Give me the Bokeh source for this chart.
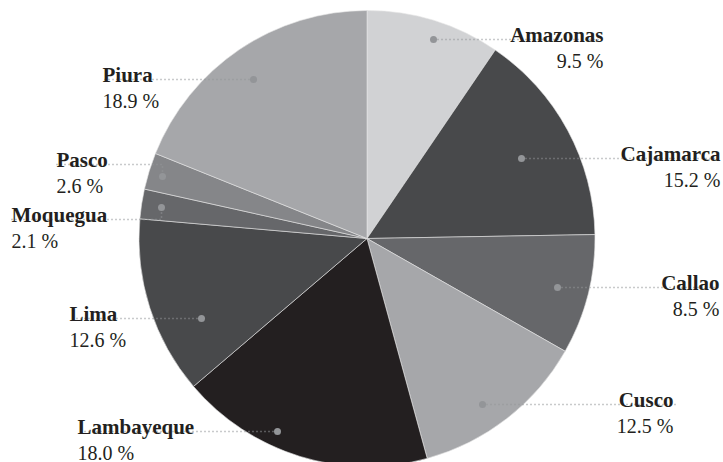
import numpy as np
from bokeh.plotting import figure
from bokeh.models import Range1d, ColumnDataSource
from bokeh.core.properties import value
from bokeh.embed import file_html
from bokeh.resources import INLINE

# ---- data ----
regions = ["Amazonas", "Cajamarca", "Callao", "Cusco", "Lambayeque",
           "Lima", "Moquegua", "Pasco", "Piura"]
shares = [9.5, 15.2, 8.5, 12.5, 18.0, 12.6, 2.1, 2.6, 18.9]
share_labels = ["9.5 %", "15.2 %", "8.5 %", "12.5 %", "18.0 %",
                "12.6 %", "2.1 %", "2.6 %", "18.9 %"]
colors = ["#d1d2d4", "#48494b", "#66676a", "#a6a7aa", "#231f20",
          "#48494b", "#66676a", "#858689", "#a6a7aa"]

# ---- layout (picture coordinates) ----
W, H = 723, 462
def Y(sy):
    return H - sy

CX, CY, R = 366.5, 238, 228
# dot x, dot y, leader y, leader end x, text x, align
anchors = {
    "Amazonas":   (433, 39, 39, 603, 603, "right"),
    "Cajamarca":  (521, 158, 158, 721, 720, "right"),
    "Callao":     (557, 287, 287, 720, 719, "right"),
    "Cusco":      (482, 404, 404, 676, 673, "right"),
    "Lambayeque": (277, 431, 431, 77, 77, "left"),
    "Lima":       (201, 318, 318, 69, 69, "left"),
    "Moquegua":   (161, 207, 219, 11, 11, "left"),
    "Pasco":      (162, 176, 164, 56, 56, "left"),
    "Piura":      (253, 79, 79, 102, 102, "left"),
}

p = figure(width=W, height=H, output_backend="svg", toolbar_location=None,
           x_range=Range1d(0, W), y_range=Range1d(0, H),
           min_border=0, outline_line_color=None)
p.axis.visible = False
p.grid.visible = False
p.background_fill_color = "white"
p.border_fill_color = "white"

vals = np.array(shares, dtype=float)
frac = vals / vals.sum()
cum = np.concatenate([[0], np.cumsum(frac)])
start = np.pi / 2 - 2 * np.pi * cum[:-1]
end = np.pi / 2 - 2 * np.pi * cum[1:]

src = ColumnDataSource(dict(x=[CX] * len(regions), y=[Y(CY)] * len(regions),
                            start=start, end=end, color=colors))
p.wedge(x="x", y="y", radius=R, start_angle="start", end_angle="end",
        direction="clock", fill_color="color", line_color="#e6e6e6",
        line_width=0.6, source=src)

dot_col = "#939598"
xs, ys, dx, dy = [], [], [], []
names_l, names_r, pct_l, pct_r = [], [], [], []
for name, pct in zip(regions, share_labels):
    dxp, dyp, ly, lx, tx, al = anchors[name]
    dx.append(dxp); dy.append(Y(dyp))
    xs.append([dxp, lx] if dyp == ly else [lx, dxp, dxp])
    ys.append([Y(ly), Y(ly)] if dyp == ly else [Y(ly), Y(ly), Y(dyp)])
    rec_n = (tx, Y(ly - 5), name)
    rec_p = (tx, Y(ly + 21), pct)
    (names_r if al == "right" else names_l).append(rec_n)
    (pct_r if al == "right" else pct_l).append(rec_p)

p.multi_line(xs, ys, line_color=dot_col, line_width=1.6, line_dash="1 3")
p.scatter(dx, dy, size=7, fill_color=dot_col, line_color=None)

font = value("Liberation Serif")
for recs, al, style, size in [(names_l, "left", "bold", "21px"),
                              (names_r, "right", "bold", "21px"),
                              (pct_l, "left", "normal", "20px"),
                              (pct_r, "right", "normal", "20px")]:
    if not recs:
        continue
    p.text(x=[r[0] for r in recs], y=[r[1] for r in recs], text=[r[2] for r in recs],
           text_font=font, text_font_size=size, text_font_style=style,
           text_color="#231f20", text_align=al, text_baseline="alphabetic")

open("out.html", "w").write(file_html(p, INLINE))
